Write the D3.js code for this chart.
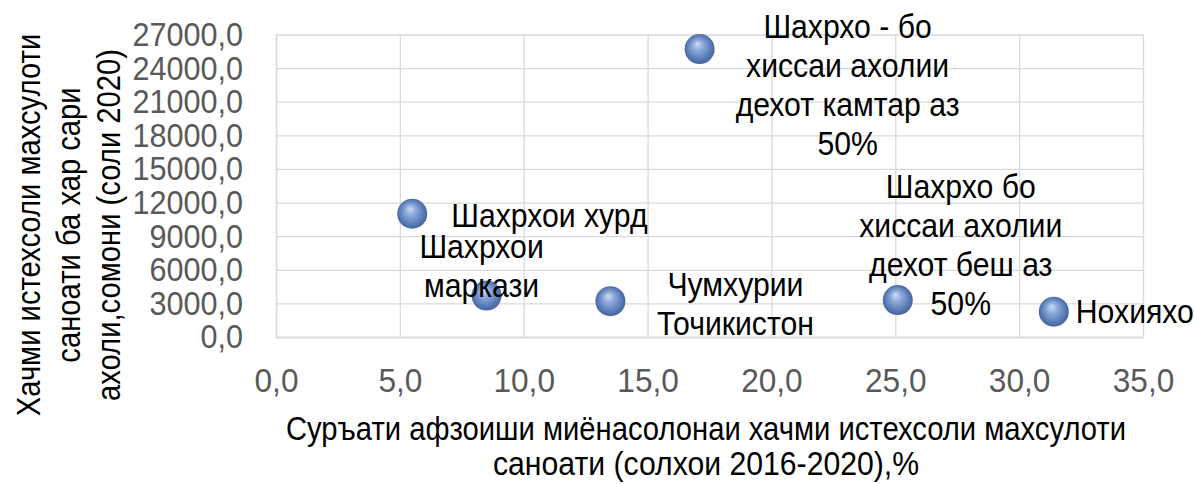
<!DOCTYPE html>
<html>
<head>
<meta charset="utf-8">
<script src="https://cdn.jsdelivr.net/npm/d3@7"></script>
<style>
  html, body { margin: 0; padding: 0; background: #fff; }
  svg { display: block; font-family: "Liberation Sans", Arial, sans-serif; }
</style>
</head>
<body>
<div id="chart"></div>
<script>
// chart values
const names = [
  ["Шахрхои хурд"],
  ["Шахрхои", "маркази"],
  ["Чумхурии", "Точикистон"],
  ["Шахрхо - бо", "хиссаи ахолии", "дехот камтар аз", "50%"],
  ["Шахрхо бо", "хиссаи ахолии", "дехот беш аз", "50%"],
  ["Нохияхо"]
];
const growth = [5.5, 8.5, 13.5, 17.1, 25.1, 31.4];
const outputPerCapita = [11000, 3700, 3200, 25700, 3300, 2260];
const xTicks = [0, 5, 10, 15, 20, 25, 30, 35];
const yTicks = [0, 3000, 6000, 9000, 12000, 15000, 18000, 21000, 24000, 27000];
const xTitle = ["Суръати афзоиши миёнасолонаи хачми истехсоли махсулоти", "саноати (солхои 2016-2020),%"];
const yTitle = ["Хачми истехсоли махсулоти", "саноати ба хар сари", "ахоли,сомони (соли 2020)"];

// where each label sits relative to its point
const labelLayout = [
  { anchor: "start", dx: 39, dy: 13 },
  { anchor: "middle", dx: -5, dy: -38 },
  { anchor: "middle", dx: 125, dy: -5 },
  { anchor: "middle", dx: 148, dy: -11 },
  { anchor: "middle", dx: 63, dy: -102 },
  { anchor: "start", dx: 22, dy: 11 }
];

const width = 1194;
const height = 484;
const margin = { top: 34.5, right: 51, bottom: 147, left: 276 };
const plotW = width - margin.left - margin.right;
const plotH = height - margin.top - margin.bottom;
const gridColor = "#d9d9d9";
// the original uses a narrow face, so squeeze text sideways
const narrowX = 0.93;
const narrowY = 0.9;
const narrowLabel = 0.915;
const narrowTitle = [0.885, 0.915];

const fmt = d3.formatLocale({ decimal: ",", thousands: "", grouping: [3], currency: ["", ""] }).format(".1f");

const svg = d3.select("#chart")
  .append("svg")
  .attr("width", width)
  .attr("height", height);

const defs = svg.append("defs");
const grad = defs.append("radialGradient")
  .attr("id", "ball")
  .attr("cx", "50%").attr("cy", "50%").attr("r", "55%")
  .attr("fx", "42%").attr("fy", "32%");
grad.append("stop").attr("offset", "0%").attr("stop-color", "#cddcf4");
grad.append("stop").attr("offset", "35%").attr("stop-color", "#89a6d9");
grad.append("stop").attr("offset", "75%").attr("stop-color", "#5778b3");
grad.append("stop").attr("offset", "100%").attr("stop-color", "#405d93");

const xScale = d3.scaleLinear().domain([0, 35]).range([0, plotW]);
const yScale = d3.scaleLinear().domain([0, 27000]).range([plotH, 0]);

const g = svg.append("g").attr("transform", `translate(${margin.left},${margin.top})`);

const xAxis = d3.axisBottom(xScale)
  .tickValues(xTicks)
  .tickFormat(fmt)
  .tickSizeInner(-plotH)
  .tickSizeOuter(0)
  .tickPadding(31);

const yAxis = d3.axisLeft(yScale)
  .tickValues(yTicks)
  .tickFormat(fmt)
  .tickSizeInner(-plotW)
  .tickSizeOuter(0)
  .tickPadding(33);

const gx = g.append("g")
  .attr("transform", `translate(0,${plotH})`)
  .call(xAxis);

const gy = g.append("g").call(yAxis);

[gx, gy].forEach((ax) => {
  ax.attr("font-family", null).attr("font-size", null);
  ax.select(".domain").attr("stroke", gridColor).attr("stroke-width", 1.3);
  ax.selectAll(".tick line").attr("stroke", gridColor).attr("stroke-width", 1.3);
  ax.selectAll(".tick text")
    .attr("fill", "#595959")
    .style("font-size", "34px");
});
gx.selectAll(".tick text").attr("transform", `scale(${narrowX},1)`);
gy.selectAll(".tick text")
  .attr("x", 0)
  .attr("transform", `translate(-33,0) scale(${narrowY},1)`);

// points
g.selectAll("circle.pt")
  .data(growth)
  .enter()
  .append("circle")
  .attr("class", "pt")
  .attr("cx", (d) => xScale(d))
  .attr("cy", (d, i) => yScale(outputPerCapita[i]))
  .attr("r", 15)
  .attr("fill", "url(#ball)");

// data labels
const labels = g.selectAll("g.lbl")
  .data(names)
  .enter()
  .append("g")
  .attr("class", "lbl")
  .attr("transform", (d, i) => {
    const px = xScale(growth[i]) + labelLayout[i].dx;
    const py = yScale(outputPerCapita[i]) + labelLayout[i].dy;
    return `translate(${px},${py}) scale(${narrowLabel},1)`;
  })
  .append("text")
  .attr("text-anchor", (d, i) => labelLayout[i].anchor)
  .attr("fill", "#000")
  .style("font-size", "33px");

labels.selectAll("tspan")
  .data((d) => d)
  .enter()
  .append("tspan")
  .attr("x", 0)
  .attr("y", (d, j) => j * 39)
  .text((d) => d);

// axis titles
svg.selectAll("text.xtitle")
  .data(xTitle)
  .enter()
  .append("text")
  .attr("class", "xtitle")
  .attr("text-anchor", "middle")
  .attr("transform", (d, i) => `translate(706,${440 + i * 35}) scale(${narrowTitle[i]},1)`)
  .style("font-size", "33px")
  .text((d) => d);

svg.append("text")
  .attr("text-anchor", "middle")
  .attr("transform", `translate(0,225) rotate(-90) scale(${narrowTitle[0]},1)`)
  .style("font-size", "33px")
  .selectAll("tspan")
  .data(yTitle)
  .enter()
  .append("tspan")
  .attr("x", 0)
  .attr("y", (d, i) => 40 + i * 40)
  .text((d) => d);
</script>
</body>
</html>
